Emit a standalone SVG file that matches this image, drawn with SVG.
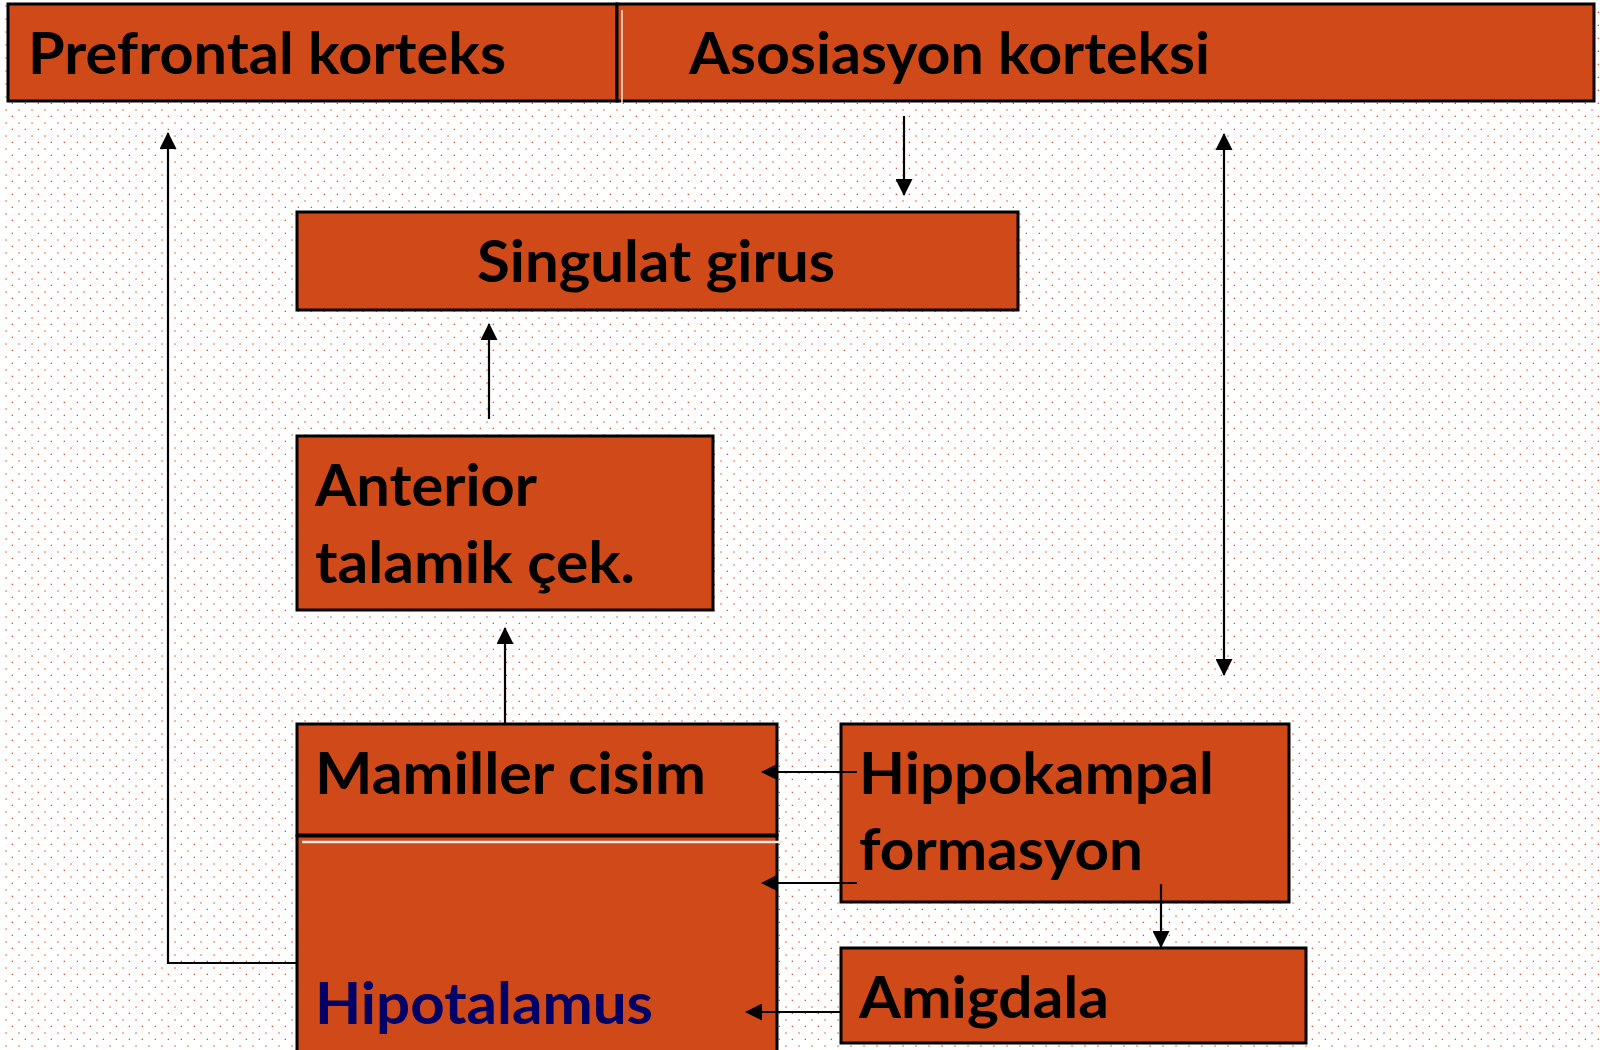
<svg xmlns="http://www.w3.org/2000/svg" width="1600" height="1050" viewBox="0 0 1600 1050">
<defs>
<pattern id="dots" patternUnits="userSpaceOnUse" width="13" height="13">
<rect x="5.2" y="5.2" width="1.7" height="1.7" fill="#F09C7E"/>
<rect x="11.7" y="11.7" width="1.7" height="1.7" fill="#DE5224"/>
</pattern>
<marker id="ah" markerUnits="userSpaceOnUse" markerWidth="17" markerHeight="17" refX="16" refY="8.5" orient="auto-start-reverse">
<path d="M0,0 L17,8.5 L0,17 z" fill="#000"/>
</marker>
<style>
.box{fill:#D04918;stroke:#000;stroke-width:3}
.t{font-family:Lato,"Open Sans","Liberation Sans",sans-serif;font-weight:700;font-size:57px;fill:#000}
.blue{fill:#000066}
.c{fill:none;stroke:#000;stroke-width:2.2}
</style>
</defs>
<rect width="1600" height="1050" fill="#fff"/>
<rect width="1600" height="1050" fill="url(#dots)"/>

<g id="prefrontal">
<rect class="box" x="8" y="4" width="609" height="97"/>
<text class="t" x="28" y="74" textLength="478" lengthAdjust="spacingAndGlyphs">Prefrontal korteks</text>
</g>
<g id="asosiasyon">
<rect class="box" x="617" y="4" width="977" height="97"/>
<line x1="622" y1="10" x2="622" y2="103" stroke="#f2e8e0" stroke-width="1.5"/>
<text class="t" x="689" y="74" textLength="521" lengthAdjust="spacingAndGlyphs">Asosiasyon korteksi</text>
</g>
<g id="singulat">
<rect class="box" x="297" y="212" width="721" height="98"/>
<text class="t" x="477" y="282" textLength="358" lengthAdjust="spacingAndGlyphs">Singulat girus</text>
</g>
<g id="anterior">
<rect class="box" x="297" y="436" width="416" height="174"/>
<text class="t" x="315" y="506" textLength="222" lengthAdjust="spacingAndGlyphs">Anterior</text>
<text class="t" x="315" y="583" textLength="320" lengthAdjust="spacingAndGlyphs">talamik çek.</text>
</g>
<g id="mamiller">
<rect class="box" x="297" y="724" width="480" height="111"/>
<text class="t" x="315" y="794" textLength="391" lengthAdjust="spacingAndGlyphs">Mamiller cisim</text>
</g>
<g id="hipotalamus">
<rect class="box" x="297" y="836" width="480" height="240"/>
<line x1="302" y1="842" x2="783" y2="842" stroke="#eeeae4" stroke-width="2.5"/>
<text class="t blue" x="315" y="1024" textLength="338" lengthAdjust="spacingAndGlyphs">Hipotalamus</text>
</g>
<g id="hippokampal">
<rect class="box" x="841" y="724" width="448" height="178"/>
<text class="t" x="859" y="794" textLength="355" lengthAdjust="spacingAndGlyphs">Hippokampal</text>
<text class="t" x="859" y="870" textLength="284" lengthAdjust="spacingAndGlyphs">formasyon</text>
</g>
<g id="amigdala">
<rect class="box" x="841" y="948" width="465" height="95"/>
<text class="t" x="859" y="1018" textLength="250" lengthAdjust="spacingAndGlyphs">Amigdala</text>
</g>

<g id="connectors">
<path class="c" d="M297,963 H168 V133" marker-end="url(#ah)"/>
<path class="c" d="M904,116 V195" marker-end="url(#ah)"/>
<path class="c" d="M489,419 V324" marker-end="url(#ah)"/>
<path class="c" d="M505,724 V628" marker-end="url(#ah)"/>
<path class="c" d="M1224,134 V675" marker-start="url(#ah)" marker-end="url(#ah)"/>
<path class="c" d="M857,772 H762" marker-end="url(#ah)"/>
<path class="c" d="M857,883 H762" marker-end="url(#ah)"/>
<path class="c" d="M841,1012 H746" marker-end="url(#ah)"/>
<path class="c" d="M1161,884 V947" marker-end="url(#ah)"/>
</g>
</svg>
